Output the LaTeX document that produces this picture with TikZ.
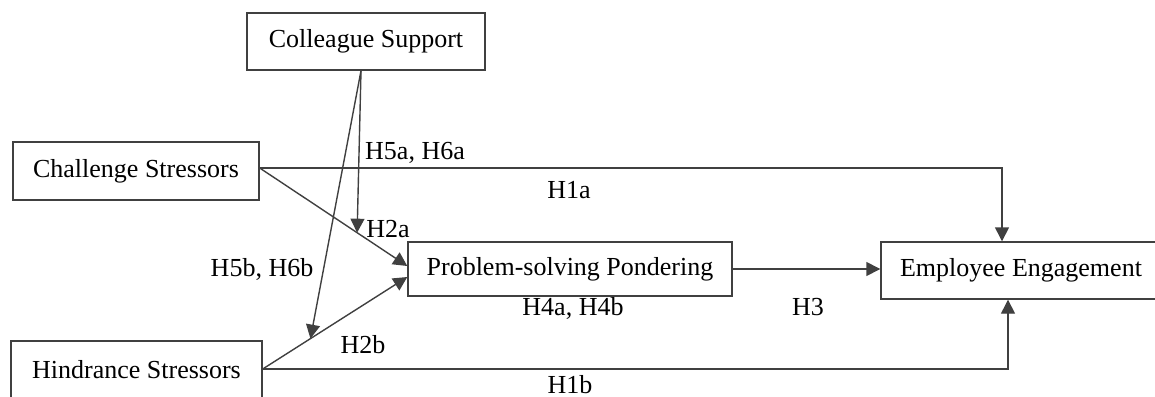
\documentclass[tikz,border=0pt]{standalone}
\usepackage{fontspec}
\setmainfont{Liberation Serif}
\usetikzlibrary{arrows.meta}

\tikzset{
  box/.style={draw=black!75, line width=0.7pt, inner sep=0pt, font=\fontsize{13}{15}\selectfont},
  hyp/.style={anchor=base, inner sep=0pt, font=\fontsize{13}{15}\selectfont},
  link/.style={draw=black!75, line width=0.7pt, -{Triangle[length=7pt, width=7pt]}}
}

\begin{document}
\begin{tikzpicture}[x=0.5pt, y=-0.5pt]

  \useasboundingbox (0, 0) rectangle (1155, 396);

  \node[box, minimum width=119pt, minimum height=28.5pt] (cs) at (366, 41.5) {Colleague Support};
  \node[box, minimum width=123pt, minimum height=29pt] (ch) at (136, 171) {Challenge Stressors};
  \node[box, minimum width=125.5pt, minimum height=29pt] (hi) at (136.5, 370) {Hindrance Stressors};
  \node[box, minimum width=162pt, minimum height=27pt] (pp) at (570, 269) {Problem-solving Pondering};
  \node[box, minimum width=140pt, minimum height=28.5pt] (ee) at (1021, 270.5) {Employee Engagement};

  \coordinate (chOut) at ([yshift=1.5pt]ch.east);
  \coordinate (hiOut) at ([yshift=0.5pt]hi.east);
  \coordinate (ppA) at ([yshift=1.5pt]pp.west);
  \coordinate (ppB) at ([yshift=-4pt]pp.west);
  \coordinate (csFoot) at ([xshift=-2.5pt]cs.south);

  \path (chOut) -- (ppA) coordinate[pos=.66] (modA);
  \path (hiOut) -- (ppB) coordinate[pos=.33] (modB);

  \draw[link] (chOut) -- (ppA);
  \draw[link] (hiOut) -- (ppB);
  \draw[link] (chOut) -| ([xshift=-9.5pt]ee.north);
  \draw[link] (hiOut) -| ([xshift=-6.5pt]ee.south);
  \draw[link] (pp.east) -- (pp.east -| ee.west);

  \draw[link] (csFoot) -- (modA);
  \draw[link] (csFoot) -- (modB);

  \node[hyp] (h5a) at (415, 159) {H5a, H6a};
  \node[hyp] (h1a) at (569, 198) {H1a};
  \node[hyp] (h2a) at (388, 237) {H2a};
  \node[hyp] (h5b) at (262, 276) {H5b, H6b};
  \node[hyp] (h4) at (573, 315) {H4a, H4b};
  \node[hyp] (h3) at (808, 315) {H3};
  \node[hyp] (h2b) at (363, 353) {H2b};
  \node[hyp] (h1b) at (570, 393) {H1b};

\end{tikzpicture}
\end{document}
